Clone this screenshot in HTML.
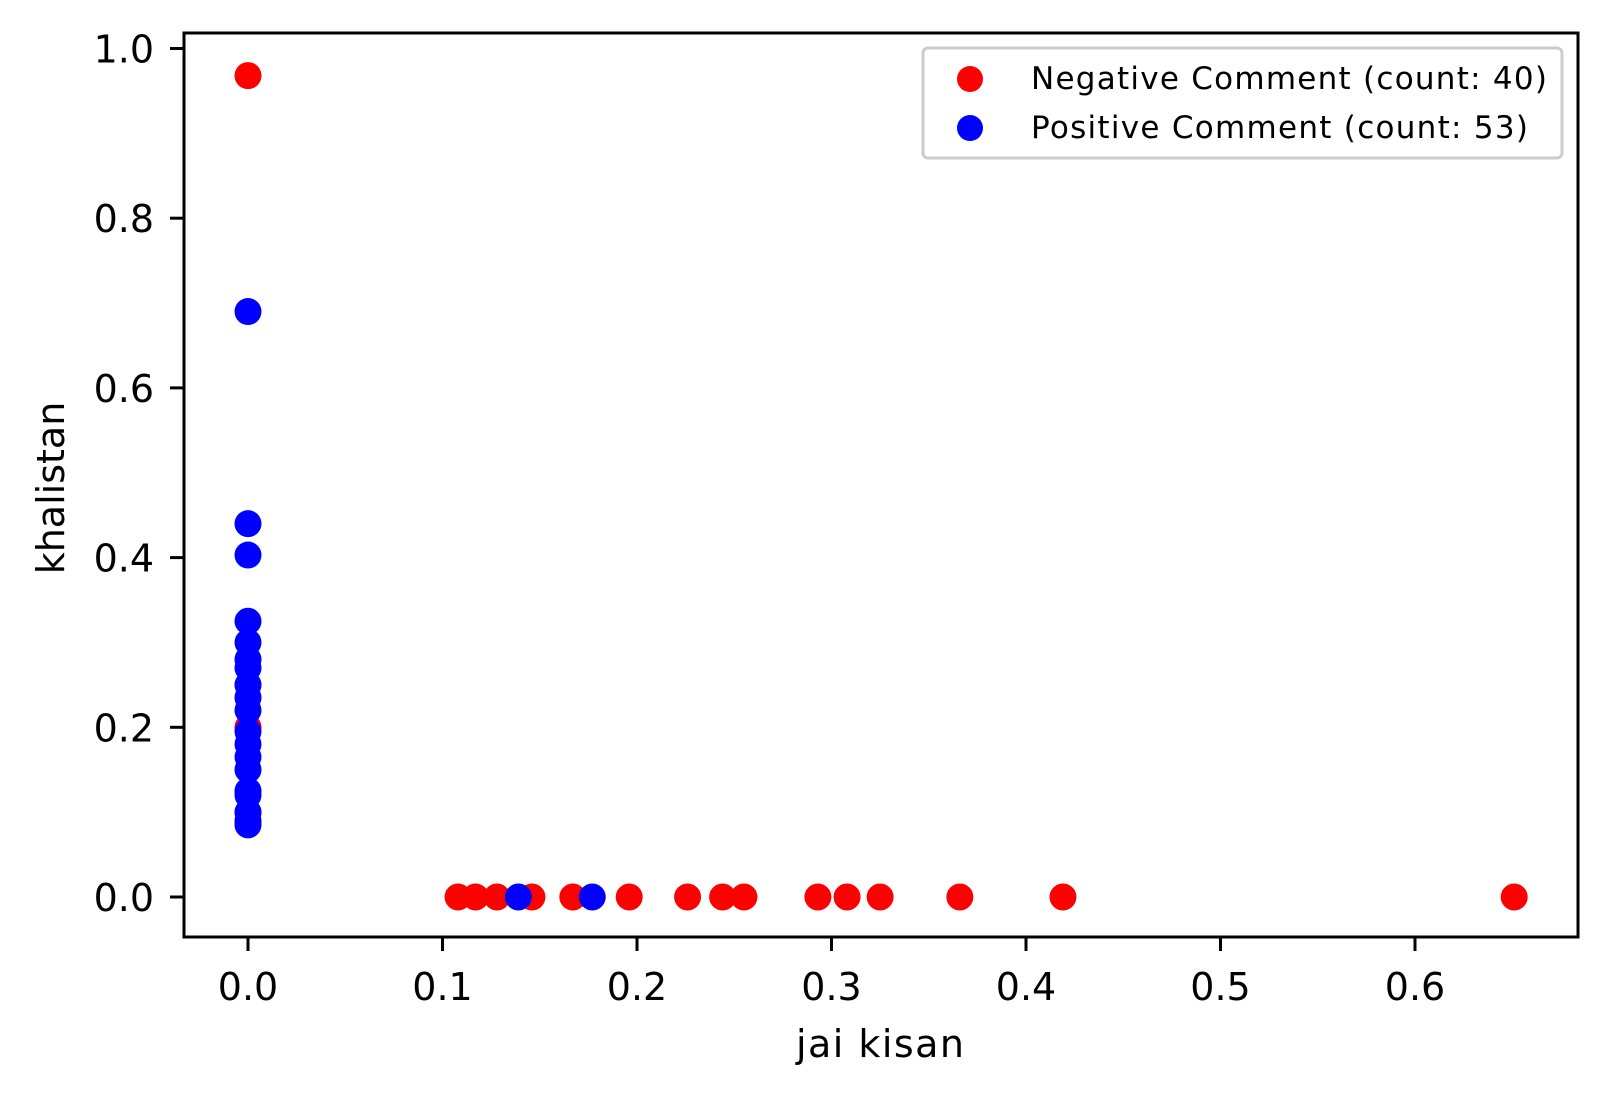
<!DOCTYPE html>
<html><head><meta charset="utf-8"><style>
body{margin:0;background:#fff}
svg text{font-family:"DejaVu Sans","Liberation Sans",sans-serif;fill:#000}
</style></head><body>
<svg id="chart" width="1609" height="1098">
<g id="marks"></g>
<rect x="184" y="33" width="1394" height="904" fill="none" stroke="#000" stroke-width="3"/>
<g id="axes"></g>
<text x="880" y="1057" font-size="38" text-anchor="middle" textLength="168">jai kisan</text>
<text transform="translate(64,488) rotate(-90)" font-size="38" text-anchor="middle">khalistan</text>
<g>
<rect x="923" y="48" width="639" height="110" rx="5" fill="#fff" stroke="#ccc" stroke-width="3"/>
<circle cx="970" cy="79" r="13" fill="#ff0000"/>
<text x="1031" y="89" font-size="31" textLength="516">Negative Comment (count: 40)</text>
<circle cx="970" cy="128" r="13" fill="#0000ff"/>
<text x="1031" y="138" font-size="31" textLength="497">Positive Comment (count: 53)</text>
</g>
</svg>
<script>
const negX=[0,0,0,0,0.108,0.117,0.128,0.146,0.167,0.196,0.226,0.244,0.255,0.293,0.308,0.325,0.366,0.419,0.651];
const negY=[0.968,0.25,0.2,0.1,0,0,0,0,0,0,0,0,0,0,0,0,0,0,0];
const posX=[0,0,0,0,0,0,0,0,0,0,0,0,0,0,0,0,0,0,0,0.139,0.177];
const posY=[0.69,0.44,0.403,0.325,0.30,0.28,0.27,0.25,0.235,0.22,0.195,0.18,0.165,0.15,0.125,0.12,0.1,0.09,0.085,0,0];
const xTicks=[0,0.1,0.2,0.3,0.4,0.5,0.6];
const yTicks=[0,0.2,0.4,0.6,0.8,1.0];
const sx=v=>248+v*1945;
const sy=v=>897-v*848.5;
const NS="http://www.w3.org/2000/svg";
const marks=document.getElementById('marks');
function dot(x,y,c,n){const e=document.createElementNS(NS,'circle');
e.setAttribute('cx',sx(x));e.setAttribute('cy',sy(y));e.setAttribute('r',13.5);e.setAttribute('fill',c);


marks.appendChild(e);}
negX.forEach((x,i)=>dot(x,negY[i],'#ff0000','negative-point'));
posX.forEach((x,i)=>dot(x,posY[i],'#0000ff','positive-point'));
const axes=document.getElementById('axes');
xTicks.forEach(t=>{const l=document.createElementNS(NS,'line');
l.setAttribute('x1',sx(t));l.setAttribute('x2',sx(t));l.setAttribute('y1',937);l.setAttribute('y2',951);l.setAttribute('stroke','#000');l.setAttribute('stroke-width',3);


axes.appendChild(l);
const s=document.createElementNS(NS,'text');s.setAttribute('x',sx(t));s.setAttribute('y',1000);s.setAttribute('font-size',38);s.setAttribute('text-anchor','middle');s.textContent=t.toFixed(1);


axes.appendChild(s);});
yTicks.forEach(t=>{const l=document.createElementNS(NS,'line');
l.setAttribute('x1',170);l.setAttribute('x2',184);l.setAttribute('y1',sy(t));l.setAttribute('y2',sy(t));l.setAttribute('stroke','#000');l.setAttribute('stroke-width',3);


axes.appendChild(l);
const s=document.createElementNS(NS,'text');s.setAttribute('x',154);s.setAttribute('y',sy(t)+14);s.setAttribute('font-size',38);s.setAttribute('text-anchor','end');s.textContent=t.toFixed(1);


axes.appendChild(s);});
</script>
</body></html>
